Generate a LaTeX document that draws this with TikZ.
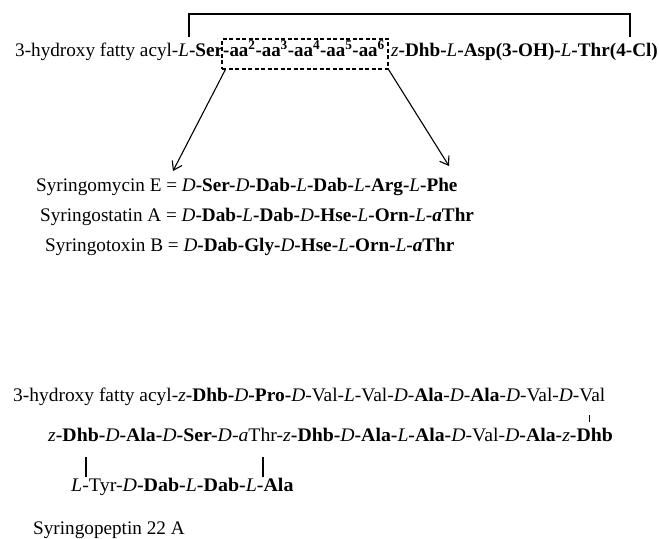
\documentclass[tikz,border=0pt]{standalone}
\usepackage{fontspec}
\usepackage{graphicx}
\setmainfont{Liberation Serif}
\usetikzlibrary{arrows.meta}
\newcommand{\pf}[1]{\textit{#1}}
\newcommand{\rs}[1]{\textbf{#1}}
\newcommand{\sx}[2]{\scalebox{#1}[1]{#2}}
\tikzset{
  txt/.style={anchor=base west, inner sep=0pt, font=\fontsize{19.2bp}{22bp}\selectfont},
  ln/.style={line width=1.4bp},
  arr/.style={line width=1.1bp, -{Straight Barb[length=8bp,width=11bp,line width=1.1bp]}},
  dbox/.style={draw, dashed, line width=1.3bp, dash pattern=on 4bp off 2.5bp, minimum width=166bp, minimum height=30bp, inner sep=0pt}
}
\begin{document}
\begin{tikzpicture}[x=1bp,y=-1bp]
\useasboundingbox (0,0) rectangle (659,539);
% line 1
\node[txt] (l1a) at (15,57) {3-hydroxy fatty acyl-\pf{L}\rs{-Ser}};
\node[dbox] (box) at (305,54) {};
\node[txt] (l1b) at (223,57) {\sx{0.985}{\rs{-aa\textsuperscript{2}-aa\textsuperscript{3}-aa\textsuperscript{4}-aa\textsuperscript{5}-aa\textsuperscript{6}}}};
\node[txt] (l1c) at (391,57) {\pf{z}\rs{-Dhb-}\pf{L}\rs{-Asp(3-OH)-}\pf{L}\rs{-Thr(4-Cl)}};
\coordinate (bl) at (189,37);
\coordinate (br) at (630,37);
\draw[ln] (bl) -- (189,14) -- (630,14) -- (br);
% arrows
\coordinate (t1) at (173,171);
\coordinate (t2) at (449,166);
\draw[arr] ([xshift=4bp]box.south west) -- (t1);
\draw[arr] (box.south east) -- (t2);
% syringomycin etc.
\node[txt] (sm) at (36,192) {Syringomycin E = \pf{D}\rs{-Ser-}\pf{D}\rs{-Dab-}\pf{L}\rs{-Dab-}\pf{L}\rs{-Arg-}\pf{L}\rs{-Phe}};
\node[txt] (ss) at (40,222) {Syringostatin A = \pf{D}\rs{-Dab-}\pf{L}\rs{-Dab-}\pf{D}\rs{-Hse-}\pf{L}\rs{-Orn-}\pf{L}\rs{-}\textbf{\textit{a}}\rs{Thr}};
\node[txt] (st) at (45,252) {Syringotoxin B = \pf{D}\rs{-Dab-Gly-}\pf{D}\rs{-Hse-}\pf{L}\rs{-Orn-}\pf{L}\rs{-}\textbf{\textit{a}}\rs{Thr}};
% syringopeptin
\node[txt] (p1) at (13,401) {\sx{1.012}{3-hydroxy fatty acyl-\pf{z}\rs{-Dhb-}\pf{D}\rs{-Pro-}\pf{D}-Val-\pf{L}-Val-\pf{D}-\rs{Ala}-\pf{D}-\rs{Ala}-\pf{D}-Val-\pf{D}-Val}};
\node[txt] (p2) at (48,441) {\sx{1.03}{\pf{z}\rs{-Dhb-}\pf{D}\rs{-Ala-}\pf{D}\rs{-Ser-}\pf{D}-\pf{a}Thr-\pf{z}\rs{-Dhb-}\pf{D}\rs{-Ala-}\pf{L}\rs{-Ala-}\pf{D}-Val-\pf{D}\rs{-Ala-}\pf{z}\rs{-Dhb}}};
\coordinate (k1) at (589,415);
\coordinate (k2) at (589,422);
\draw[line width=1bp] (k1) -- (k2);
\coordinate (v1a) at (86,457);
\coordinate (v1b) at (86,477);
\coordinate (v2a) at (263,457);
\coordinate (v2b) at (263,477);
\draw[line width=1.1bp] (v1a) -- (v1b);
\draw[line width=1.1bp] (v2a) -- (v2b);
\node[txt] (p3) at (71,491) {\sx{1.04}{\pf{L}-Tyr-\pf{D}\rs{-Dab-}\pf{L}\rs{-Dab-}\pf{L}\rs{-Ala}}};
\node[txt] (p4) at (33,534) {Syringopeptin 22 A};
\end{tikzpicture}
\end{document}
